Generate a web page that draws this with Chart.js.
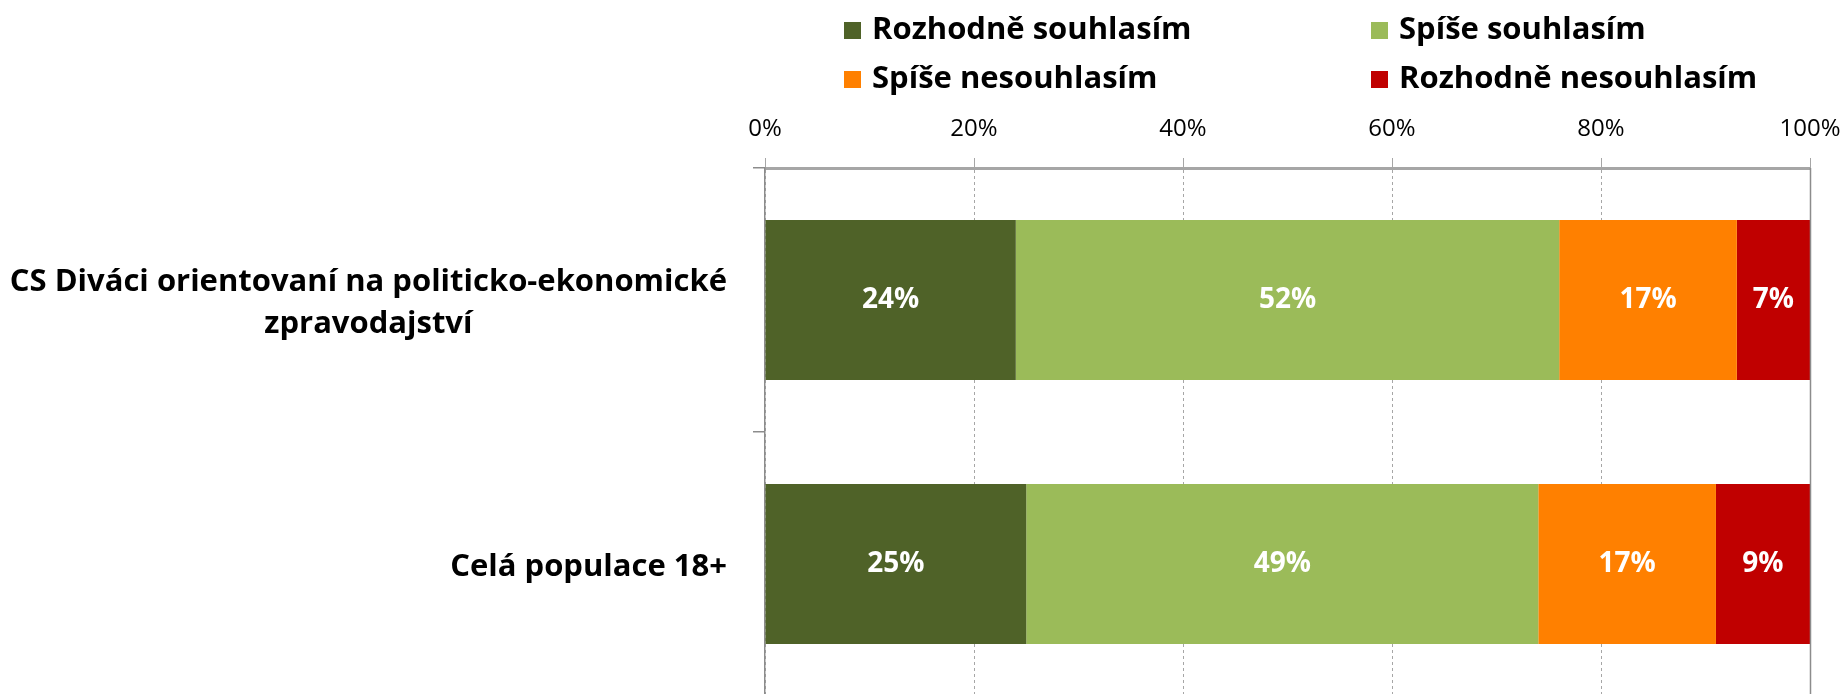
<!DOCTYPE html>
<html>
<head>
<meta charset="utf-8">
<script src="https://cdn.jsdelivr.net/npm/chart.js@4.4.1/dist/chart.umd.min.js"></script>
<style>
  html, body { margin: 0; padding: 0; background: #fff; overflow: hidden; }
  #wrap { width: 1845px; height: 700px; }
</style>
</head>
<body>
<div id="wrap"><canvas id="chart" width="1845" height="700"></canvas></div>
<script>
// DATA

let categories = [["CS Diváci orientovaní na politicko-ekonomické", "zpravodajství"], ["Celá populace 18+"]];
let seriesNames = ["Rozhodně souhlasím", "Spíše souhlasím", "Spíše nesouhlasím", "Rozhodně nesouhlasím"];
let rozhodneSouhlasim = [24, 25];
let spiseSouhlasim = [52, 49];
let spiseNesouhlasim = [17, 17];
let rozhodneNesouhlasim = [7, 9];
let xTicks = [0, 20, 40, 60, 80, 100];

let colors = ["#4F6228", "#9BBB59", "#FF8000", "#C00000"];
let fontFamily = "'Open Sans', sans-serif";

Chart.defaults.font.family = fontFamily;
Chart.defaults.color = "#000";

// LEGEND IN TWO COLUMNS

const gridLegend = {
  id: "gridLegend",
  afterDraw(chart) {
    let ctx = chart.ctx;
    let cols = [844, 1371];
    let rows = [30, 79];
    ctx.save();
    ctx.font = "bold 31px " + fontFamily;
    ctx.textBaseline = "middle";
    ctx.textAlign = "left";
    chart.data.datasets.forEach((ds, i) => {
      let x = cols[i % 2];
      let y = rows[Math.floor(i / 2)];
      ctx.fillStyle = ds.backgroundColor;
      ctx.fillRect(x, y - 8, 17, 17);
      ctx.fillStyle = "#000";
      ctx.fillText(ds.label, x + 28, y);
    });
    ctx.restore();
  },
};

// CATEGORY LABELS (multi line centred, block right aligned)

const categoryLabels = {
  id: "categoryLabels",
  afterDraw(chart) {
    let ctx = chart.ctx;
    let yScale = chart.scales.y;
    let right = yScale.right - 12 - 26;
    ctx.save();
    ctx.font = "bold 31px " + fontFamily;
    ctx.fillStyle = "#000";
    ctx.textBaseline = "middle";
    ctx.textAlign = "center";
    chart.data.labels.forEach((lines, i) => {
      let cy = yScale.getPixelForValue(i) + 3;
      let widest = Math.max(...lines.map((l) => ctx.measureText(l).width));
      let lh = 42;
      let top = cy - ((lines.length - 1) * lh) / 2;
      lines.forEach((l, j) => ctx.fillText(l, right - widest / 2, top + j * lh));
    });
    ctx.restore();
  },
};

// VALUE LABELS INSIDE BARS + SOLID 100% LINE

const barValues = {
  id: "barValues",
  afterDatasetsDraw(chart) {
    let ctx = chart.ctx;
    ctx.save();
    ctx.font = "bold 28px " + fontFamily;
    ctx.fillStyle = "#fff";
    ctx.textAlign = "center";
    ctx.textBaseline = "middle";
    chart.data.datasets.forEach((ds, i) => {
      chart.getDatasetMeta(i).data.forEach((bar, j) => {
        ctx.fillText(ds.data[j] + "%", (bar.x + bar.base) / 2, bar.y);
      });
    });
    let x100 = Math.round(chart.scales.x.getPixelForValue(100)) + 0.5;
    ctx.strokeStyle = "#8c8c8c";
    ctx.lineWidth = 1.5;
    ctx.beginPath();
    ctx.moveTo(x100, chart.chartArea.top);
    ctx.lineTo(x100, chart.chartArea.bottom);
    ctx.stroke();
    ctx.restore();
  },
};

const ctx = document.getElementById("chart").getContext("2d");

const myChart = new Chart(ctx, {
  type: "bar",
  data: {
    labels: categories,
    datasets: [
      { label: seriesNames[0], data: rozhodneSouhlasim, backgroundColor: colors[0] },
      { label: seriesNames[1], data: spiseSouhlasim, backgroundColor: colors[1] },
      { label: seriesNames[2], data: spiseNesouhlasim, backgroundColor: colors[2] },
      { label: seriesNames[3], data: rozhodneNesouhlasim, backgroundColor: colors[3] },
    ],
  },
  plugins: [gridLegend, categoryLabels, barValues],
  options: {
    indexAxis: "y",
    responsive: false,
    animation: false,
    events: [],
    layout: {
      padding: { top: 100, right: 35, bottom: 4, left: 0 },
    },
    datasets: {
      bar: {
        categoryPercentage: 1,
        barPercentage: 0.606,
        borderWidth: 0,
      },
    },
    plugins: {
      legend: { display: false },
      tooltip: { enabled: false },
    },
    scales: {
      x: {
        position: "top",
        stacked: true,
        min: 0,
        max: 100,
        afterBuildTicks: (scale) => {
          scale.ticks = xTicks.map((v) => ({ value: v }));
        },
        afterFit: (scale) => {
          scale.height = 68;
          scale.paddingLeft = 0;
          scale.paddingRight = 0;
        },
        ticks: {
          padding: 14,
          font: { size: 24 },
          color: "#000",
          callback: (v) => v + "%",
        },
        grid: {
          color: "#a6a6a6",
          lineWidth: 1,
          tickLength: 10,
          tickColor: "#a6a6a6",
          tickBorderDash: [],
        },
        border: {
          display: true,
          color: "#a6a6a6",
          width: 3,
          dash: [3, 3],
        },
      },
      y: {
        stacked: true,
        afterFit: (scale) => {
          scale.width = 765;
        },
        ticks: { display: false },
        grid: {
          offset: true,
          drawOnChartArea: false,
          tickLength: 12,
          tickColor: "#8c8c8c",
          lineWidth: 1.5,
        },
        border: {
          display: true,
          color: "#8c8c8c",
          width: 1.5,
        },
      },
    },
  },
});
</script>
</body>
</html>
